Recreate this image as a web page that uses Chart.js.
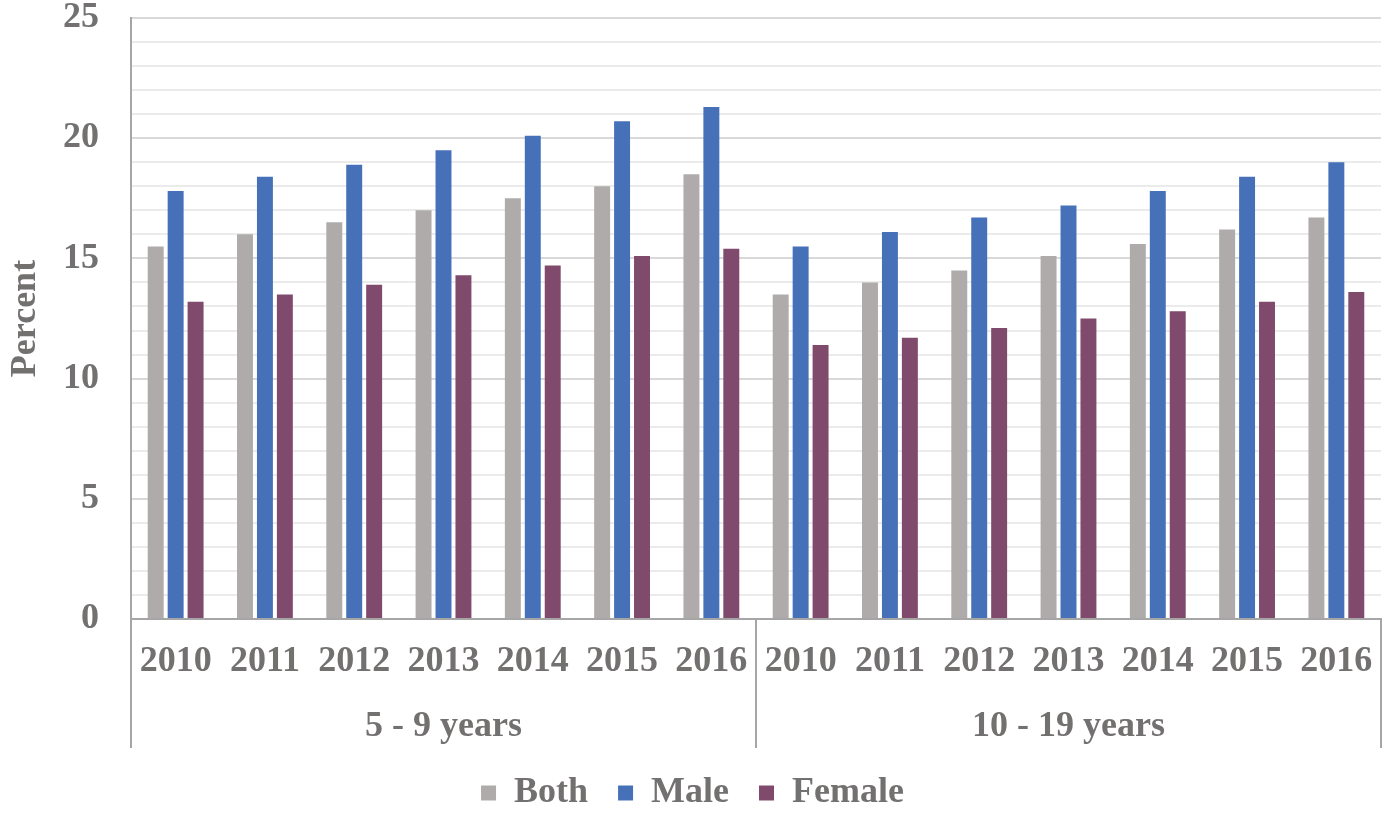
<!DOCTYPE html>
<html>
<head>
<meta charset="utf-8">
<script src="https://cdn.jsdelivr.net/npm/chart.js@4/dist/chart.umd.min.js"></script>
<style>
  html, body { margin: 0; padding: 0; background: #fff; overflow: hidden; }
  #wrap { width: 1384px; height: 821px; }
</style>
</head>
<body>
<div id="wrap"><canvas id="chart"></canvas></div>
<script>
const years = ["2010", "2011", "2012", "2013", "2014", "2015", "2016",
               "2010", "2011", "2012", "2013", "2014", "2015", "2016"];
const ageGroups = ["5 - 9 years", "10 - 19 years"];

const both = [15.5, 16.0, 16.5, 17.0, 17.5, 18.0, 18.5,
              13.5, 14.0, 14.5, 15.1, 15.6, 16.2, 16.7];
const male = [17.8, 18.4, 18.9, 19.5, 20.1, 20.7, 21.3,
              15.5, 16.1, 16.7, 17.2, 17.8, 18.4, 19.0];
const female = [13.2, 13.5, 13.9, 14.3, 14.7, 15.1, 15.4,
                11.4, 11.7, 12.1, 12.5, 12.8, 13.2, 13.6];

const textGrey = "#737070";
const fontFamily = "'Liberation Serif', 'Times New Roman', serif";
const labelFont = { family: fontFamily, size: 36, weight: "bold", lineHeight: 1 };

// invisible tick marks, used only to push the labels away from the axis
const hiddenTicks = (len) => ({
  display: true,
  drawOnChartArea: false,
  drawTicks: true,
  tickLength: len,
  tickColor: "rgba(0,0,0,0)",
});

// separators between the two age groups, down through the label rows
const groupLines = {
  id: "groupLines",
  afterDraw(chart) {
    const { ctx, chartArea, scales } = chart;
    const x = scales.x;
    const mid = (x.getPixelForValue(6) + x.getPixelForValue(7)) / 2;
    const bottom = scales.x2.bottom + 3;
    ctx.save();
    ctx.strokeStyle = "#A6A6A6";
    ctx.lineWidth = 2;
    ctx.beginPath();
    ctx.moveTo(chartArea.left, chartArea.top);
    ctx.lineTo(chartArea.left, bottom);
    [mid, chartArea.right].forEach((px) => {
      ctx.moveTo(px, chartArea.bottom);
      ctx.lineTo(px, bottom);
    });
    ctx.stroke();
    ctx.restore();
  },
};

new Chart(document.getElementById("chart"), {
  type: "bar",
  data: {
    labels: years,
    datasets: [
      { label: "Both", data: both, backgroundColor: "#AFABAB" },
      { label: "Male", data: male, backgroundColor: "#4671B9" },
      { label: "Female", data: female, backgroundColor: "#7F4A6C" },
    ],
  },
  options: {
    responsive: true,
    maintainAspectRatio: false,
    animation: false,
    datasets: {
      bar: { categoryPercentage: 0.67, barPercentage: 0.8 },
    },
    layout: { padding: { top: 1, right: 3, left: 4, bottom: 0 } },
    plugins: {
      legend: {
        position: "bottom",
        labels: {
          color: textGrey,
          font: labelFont,
          boxWidth: 15,
          boxHeight: 15,
          padding: 30,
        },
      },
      tooltip: { enabled: false },
    },
    scales: {
      x: {
        grid: hiddenTicks(25),
        border: { display: true, color: "#A6A6A6", width: 2 },
        ticks: {
          color: textGrey,
          font: labelFont,
          padding: 0,
          maxRotation: 0,
          autoSkip: false,
        },
      },
      x2: {
        type: "category",
        labels: ageGroups,
        offset: true,
        grid: hiddenTicks(29),
        border: { display: false },
        ticks: {
          color: textGrey,
          font: labelFont,
          padding: 0,
          maxRotation: 0,
        },
      },
      y: {
        min: 0,
        max: 25,
        afterFit: (scale) => {
          scale.width = 127;
        },
        border: { display: true, color: "#A6A6A6", width: 2 },
        grid: {
          drawTicks: true,
          tickLength: 32,
          tickColor: "rgba(0,0,0,0)",
          color: (c) => (c.tick && c.tick.value % 5 === 0 ? "#D9D9D9" : "#EBEBEB"),
          lineWidth: 2,
        },
        ticks: {
          stepSize: 1,
          autoSkip: false,
          color: textGrey,
          font: labelFont,
          padding: 0,
          callback: (v) => (v % 5 === 0 ? v : ""),
        },
        title: {
          display: true,
          text: "Percent",
          color: textGrey,
          font: { family: fontFamily, size: 36, weight: "bold" },
          padding: { top: 0, bottom: 0 },
        },
      },
    },
  },
  plugins: [groupLines],
});
</script>
</body>
</html>
